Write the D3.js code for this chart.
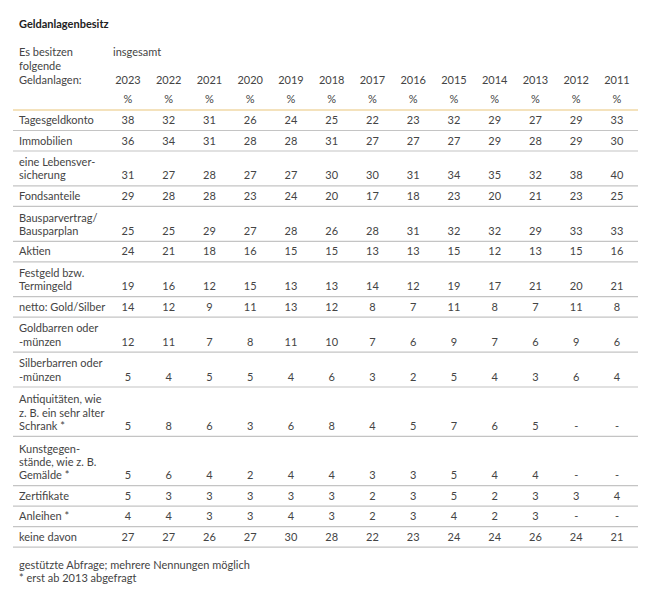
<!DOCTYPE html>
<html>
<head>
<meta charset="utf-8">
<script src="https://cdn.jsdelivr.net/npm/d3@7"></script>
<style>
  html, body { margin: 0; padding: 0; background: #fff; }
  svg { display: block; }
  text { font-family: Lato, "Open Sans", sans-serif; }
</style>
</head>
<body>
<svg id="chart" width="657" height="600"></svg>
<script>
const title = "Geldanlagenbesitz";
const stubHeader = ["Es besitzen", "folgende", "Geldanlagen:"];
const groupHeader = "insgesamt";
const years = ["2023","2022","2021","2020","2019","2018","2017","2016","2015","2014","2013","2012","2011"];
const unitLabel = "%";
const categories = [
  ["Tagesgeldkonto"],
  ["Immobilien"],
  ["eine Lebensver-", "sicherung"],
  ["Fondsanteile"],
  ["Bausparvertrag/", "Bausparplan"],
  ["Aktien"],
  ["Festgeld bzw.", "Termingeld"],
  ["netto: Gold/Silber"],
  ["Goldbarren oder", "-münzen"],
  ["Silberbarren oder", "-münzen"],
  ["Antiquitäten, wie", "z. B. ein sehr alter", "Schrank *"],
  ["Kunstgegen-", "stände, wie z. B.", "Gemälde *"],
  ["Zertifikate"],
  ["Anleihen *"],
  ["keine davon"]
];
const values = [
  [38,32,31,26,24,25,22,23,32,29,27,29,33],
  [36,34,31,28,28,31,27,27,27,29,28,29,30],
  [31,27,28,27,27,30,30,31,34,35,32,38,40],
  [29,28,28,23,24,20,17,18,23,20,21,23,25],
  [25,25,29,27,28,26,28,31,32,32,29,33,33],
  [24,21,18,16,15,15,13,13,15,12,13,15,16],
  [19,16,12,15,13,13,14,12,19,17,21,20,21],
  [14,12,9,11,13,12,8,7,11,8,7,11,8],
  [12,11,7,8,11,10,7,6,9,7,6,9,6],
  [5,4,5,5,4,6,3,2,5,4,3,6,4],
  [5,8,6,3,6,8,4,5,7,6,5,null,null],
  [5,6,4,2,4,4,3,3,5,4,4,null,null],
  [5,3,3,3,3,3,2,3,5,2,3,3,4],
  [4,4,3,3,4,3,2,3,4,2,3,null,null],
  [27,27,26,27,30,28,22,23,24,24,26,24,21]
];
const notes = ["gestützte Abfrage; mehrere Nennungen möglich", "* erst ab 2013 abgefragt"];

const svg = d3.select("#chart");
const textColor = "#444";
const fs = 11;
const left = 13, right = 638, stubX = 19;
const x = d3.scalePoint().domain(years).range([128, 617]);

// title
svg.append("text").attr("x", stubX).attr("y", 28)
  .attr("font-size", 11).attr("font-weight", "bold").attr("fill", "#222")
  .text(title);

// header
svg.selectAll("text.stubh").data(stubHeader).join("text")
  .attr("class", "stubh")
  .attr("x", stubX).attr("y", (d, i) => 56 + i * 14)
  .attr("font-size", fs).attr("fill", textColor).text(d => d);
svg.append("text").attr("x", 113).attr("y", 56)
  .attr("font-size", fs).attr("fill", textColor).text(groupHeader);
svg.selectAll("text.year").data(years).join("text")
  .attr("class", "year")
  .attr("x", d => x(d)).attr("y", 84).attr("text-anchor", "middle")
  .attr("font-size", fs).attr("fill", textColor).text(d => d);
svg.selectAll("text.unit").data(years).join("text")
  .attr("class", "unit")
  .attr("x", d => x(d)).attr("y", 103).attr("text-anchor", "middle")
  .attr("font-size", fs).attr("fill", textColor).text(unitLabel);

// rows
const tableTop = 110;
const rowH = n => 6.1 + 14.4 * n;
const heights = categories.map(c => rowH(c.length));
const tops = heights.map((h, i) => tableTop + d3.sum(heights.slice(0, i)));
const rows = categories.map((c, i) => ({ lines: c, vals: values[i], top: tops[i], bottom: tops[i] + heights[i] }));

const g = svg.append("g");
const rowG = g.selectAll("g.row").data(rows).join("g").attr("class", "row");

rowG.each(function(r) {
  const sel = d3.select(this);
  const n = r.lines.length;
  const lastY = r.bottom - 6.5;
  sel.selectAll("text.lab").data(r.lines).join("text")
    .attr("class", "lab")
    .attr("x", stubX)
    .attr("y", (d, i) => lastY - (n - 1 - i) * 13.2)
    .attr("font-size", fs).attr("fill", textColor).text(d => d);
  sel.selectAll("text.val").data(r.vals.map((v, j) => ({ v, year: years[j] }))).join("text")
    .attr("class", "val")
    .attr("x", d => x(d.year)).attr("y", lastY)
    .attr("text-anchor", "middle")
    .attr("font-size", fs).attr("fill", textColor)
    .text(d => d.v == null ? "-" : d.v);
  sel.append("line")
    .attr("x1", left).attr("x2", right)
    .attr("y1", r.bottom).attr("y2", r.bottom)
    .attr("stroke", "#c4c4c4").attr("stroke-width", 1.2);
});

// top accent line
svg.append("line").attr("x1", left).attr("x2", right)
  .attr("y1", tableTop).attr("y2", tableTop)
  .attr("stroke", "#f0d9a6").attr("stroke-width", 1.5);

// notes
const tableBottom = rows[rows.length - 1].bottom;
svg.selectAll("text.note").data(notes).join("text")
  .attr("class", "note")
  .attr("x", stubX).attr("y", (d, i) => tableBottom + 22 + i * 12.5)
  .attr("font-size", fs).attr("fill", textColor).text(d => d);
</script>
</body>
</html>
